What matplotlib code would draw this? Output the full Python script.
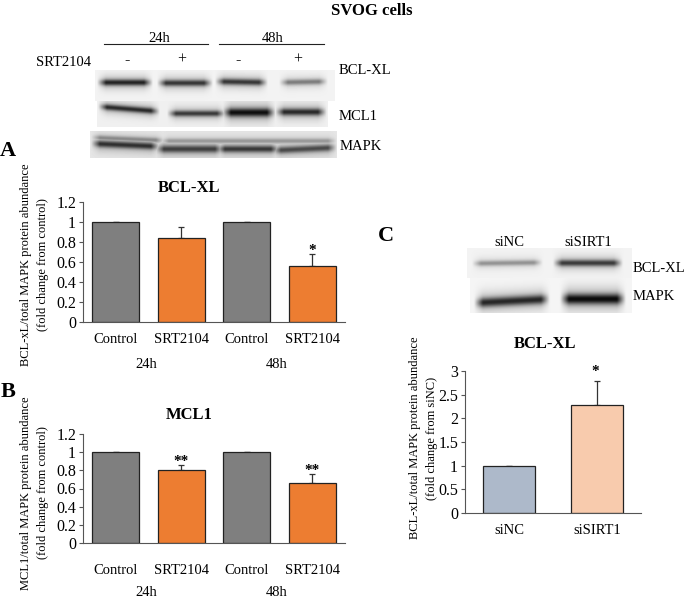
import numpy as np
import matplotlib
matplotlib.use("Agg")
import matplotlib.pyplot as plt

plt.rcParams['font.family'] = ['Liberation Serif', 'DejaVu Serif']

W, H = 685, 598

cats_time = ['Control', 'SRT2104', 'Control', 'SRT2104']
bclxl_vals = [1.0, 0.84, 1.0, 0.56]
bclxl_err = [0.0, 0.11, 0.0, 0.12]
mcl1_vals = [1.0, 0.80, 1.0, 0.66]
mcl1_err = [0.0, 0.06, 0.0, 0.10]
a_ticks = [0, 0.2, 0.4, 0.6, 0.8, 1, 1.2]
a_ticklabels = ['0', '0.2', '0.4', '0.6', '0.8', '1', '1.2']
cats_si = ['siNC', 'siSIRT1']
si_vals = [1.0, 2.29]
si_err = [0.0, 0.49]
c_ticks = [0, 0.5, 1, 1.5, 2, 2.5, 3]
c_ticklabels = ['0', '0.5', '1', '1.5', '2', '2.5', '3']

# blot bands: x0, x1, y centre, y sigma, darkness, y drift across the band
bands_bcl = [(97, 153, 82.5, 2.2, .88, 0), (157, 213, 83, 2.2, .80, 0),
             (215, 268, 82, 2.2, .80, 1), (279, 328, 82, 2.0, .50, -1)]
bands_mcl = [(98, 160, 109, 2.1, .85, 5), (167, 226, 113.5, 2.1, .78, 0),
             (222, 276, 112.5, 3.0, .97, 0), (275, 327, 112, 2.5, .85, 0)]
bands_mapk = [(91, 165, 139, 1.8, .42, 3), (160, 337, 141, 1.8, .35, 0),
              (91, 160, 145, 2.4, .82, 3), (155, 224, 149, 2.6, .75, 0),
              (216, 280, 149, 2.4, .78, 0), (272, 337, 149, 2.4, .70, -3)]
bands_c1 = [(472, 543, 263, 1.8, .42, -1), (553, 623, 263, 2.2, .80, 0)]
bands_c2 = [(474, 550, 301, 3.2, .88, -4), (560, 626, 299, 3.6, 1.0, 0)]

fig = plt.figure(figsize=(W / 100, H / 100), dpi=100)


def px_axes(x0, x1, ytop, ybot):
    return fig.add_axes([x0 / W, 1 - ybot / H, (x1 - x0) / W, (ybot - ytop) / H])


ov = fig.add_axes([0, 0, 1, 1], zorder=0)
ov.set_xlim(0, W)
ov.set_ylim(H, 0)
ov.axis('off')


def blot(x0, x1, y0, y1, bands, bg=0.95):
    xs = np.arange(x0, x1) + .5
    ys = np.arange(y0, y1) + .5
    X, Y = np.meshgrid(xs, ys)
    dark = np.zeros_like(X)
    for bx0, bx1, yc, sy, d, drift in bands:
        frac = (X - bx0) / (bx1 - bx0)
        yy = yc + drift * (frac - .5)
        edge = np.clip((X - bx0) / 9, 0, 1) * np.clip((bx1 - X) / 9, 0, 1)
        dy = Y - yy
        prof = .72 * np.exp(-(dy / sy) ** 2 / 2) + .28 * np.exp(-(dy / (2.4 * sy)) ** 2 / 2)
        dark = np.maximum(dark, d * edge * prof)
    img = bg * (1 - dark) + 0.03 * dark
    ov.imshow(img, cmap='gray', vmin=0, vmax=1, extent=(x0, x1, y1, y0),
              interpolation='bicubic', aspect='auto', zorder=1)


blot(95, 335, 70, 101, bands_bcl)
blot(97, 328, 101, 127, bands_mcl, bg=.94)
blot(90, 337, 131, 158, bands_mapk, bg=.90)
blot(467, 632, 248, 278, bands_c1, bg=.95)
blot(470, 632, 278, 313, bands_c2, bg=.96)
ov.set_xlim(0, W)
ov.set_ylim(H, 0)


def t(x, y, s, size=10.5, weight='normal', ha='center', **kw):
    dy = 0 if 'rotation' in kw else 1
    ov.text(x, y + dy, s, fontsize=size, fontweight=weight, ha=ha, va='center', zorder=3, **kw)


t(372, 10, 'SVOG cells', 12, 'bold')
t(159, 38, '24h')
t(273, 38, '48h')
ov.plot([104, 208], [44, 44], color='#222222', lw=.8, zorder=3)
ov.plot([219, 324], [44, 44], color='#222222', lw=.8, zorder=3)
t(64, 62, 'SRT2104')
for x, s in zip([127, 182, 238, 298], ['-', '+', '-', '+']):
    t(x, 59, s, 11.5)
t(339, 69, 'BCL-XL', ha='left')
t(339, 116, 'MCL1', ha='left')
t(340, 146, 'MAPK', ha='left')
t(8, 150, 'A', 16, 'bold')
t(8, 391, 'B', 16, 'bold')
t(386, 235, 'C', 16, 'bold')
t(509, 242, 'siNC')
t(588, 242, 'siSIRT1')
t(633, 267, 'BCL-XL', ha='left')
t(633, 296, 'MAPK', ha='left')


def style(ax, ticks, labels, ymax, xpad=8):
    ax.set_ylim(0, ymax)
    ax.set_yticks(ticks)
    ax.set_yticklabels(labels, fontsize=11.5)
    ax.tick_params(axis='y', length=3, width=.8, pad=2, color='#555555')
    ax.tick_params(axis='x', length=0, pad=xpad, labelsize=10.5)
    ax.patch.set_alpha(0)
    for s in ('top', 'right'):
        ax.spines[s].set_visible(False)
    for s in ('left', 'bottom'):
        ax.spines[s].set_linewidth(.8)
        ax.spines[s].set_color('#555555')


def four(ytop, ybot, vals, errs, title, title_y, ylabel, lab_xs, lab_y, stars, stars_s, time_y, xpad):
    ax = px_axes(83, 345, ytop, ybot)
    pos = np.arange(4)
    colors = ['#7f7f7f', '#ed7d31', '#7f7f7f', '#ed7d31']
    ax.bar(pos, vals, width=.71, color=colors, edgecolor='#222222', linewidth=.9, zorder=2)
    ax.errorbar(pos, vals, yerr=[np.zeros(4), errs], fmt='none', ecolor='#333333',
                elinewidth=.9, capsize=2.5, capthick=.9, zorder=1)
    ax.set_xlim(-.5, 3.5)
    ax.set_xticks(pos)
    ax.set_xticklabels(cats_time)
    style(ax, a_ticks, a_ticklabels, 1.2, xpad)
    t(189, title_y, title, 12, 'bold')
    t(lab_xs[0], lab_y, ylabel[0], 9, rotation=90)
    t(lab_xs[1], lab_y, ylabel[1], 9, rotation=90)
    for i, v, e in stars:
        ax.annotate(stars_s, (i, v + e), xytext=(0, -2), textcoords='offset points',
                    ha='center', va='bottom', fontsize=11, fontweight='bold')
    t(146, time_y, '24h')
    t(277, time_y, '48h')


four(202, 322, bclxl_vals, bclxl_err, 'BCL-XL', 187,
     ['BCL-xL/total MAPK protein abundance', '(fold change from control)'],
     (26, 43), 265, [(3, .56, .12)], '*', 363, 8)
four(434, 543, mcl1_vals, mcl1_err, 'MCL1', 414,
     ['MCL1/total MAPK protein abundance', '(fold change from control)'],
     (26, 43), 493, [(1, .80, .06), (3, .66, .10)], '**', 591, 15)

axc = px_axes(465, 641, 371, 513)
axc.bar([0, 1], si_vals, width=.6, color=['#adb9ca', '#f8cbad'], edgecolor='#222222',
        linewidth=.9, zorder=2)
axc.errorbar([0, 1], si_vals, yerr=[[0, 0], si_err], fmt='none', ecolor='#333333',
             elinewidth=.9, capsize=2.5, capthick=.9, zorder=1)
axc.set_xlim(-.5, 1.5)
axc.set_xticks([0, 1])
axc.set_xticklabels(cats_si)
style(axc, c_ticks, c_ticklabels, 3)
axc.annotate('*', (1, si_vals[1] + si_err[1]), xytext=(-1, 2.5), textcoords='offset points',
             ha='center', va='bottom', fontsize=11, fontweight='bold')
t(545, 343, 'BCL-XL', 12, 'bold')
t(415, 438, 'BCL-xL/total MAPK protein abundance', 9, rotation=90)
t(432, 438, '(fold change from siNC)', 9, rotation=90)

fig.savefig('out.png', dpi=100)
